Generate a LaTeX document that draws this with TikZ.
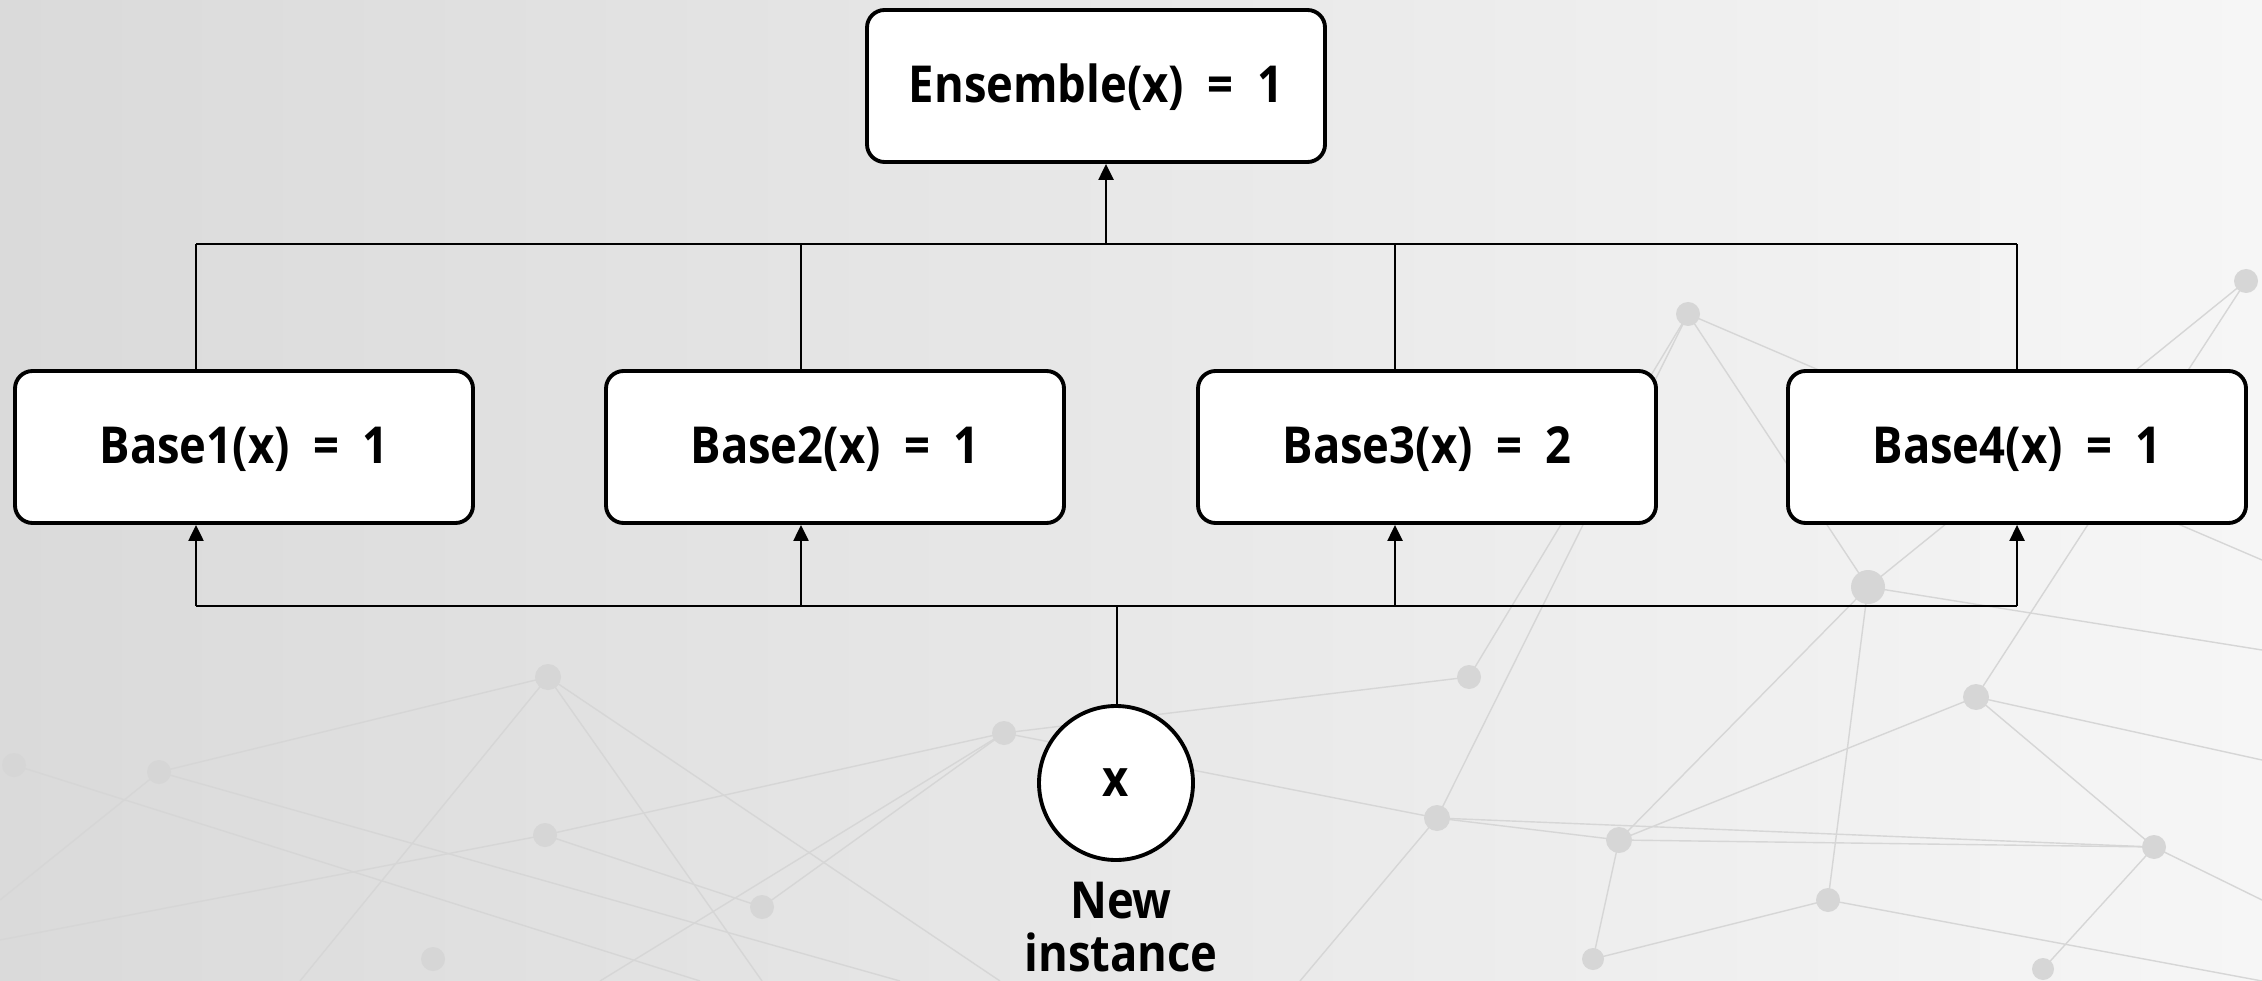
\documentclass[tikz,border=0pt]{standalone}
\usepackage{fontspec}
\setmainfont{Open Sans}[FakeStretch=0.89]
\usepackage{tikz}
\usetikzlibrary{arrows.meta, positioning, calc}

\definecolor{bgleft}{RGB}{218,218,218}
\definecolor{bgright}{RGB}{246,246,246}
\definecolor{netgray}{RGB}{214,214,214}

\begin{document}
\begin{tikzpicture}[
  x=0.1mm, y=-0.1mm,
  block/.style={draw, line width=1.1pt, rounded corners=5pt, fill=white,
                minimum width=45.8mm, minimum height=15.2mm,
                text depth=0.35ex, text height=2.15ex,
                font=\bfseries\fontsize{14.5}{16}\selectfont},
  inst/.style={draw, circle, line width=1.1pt, fill=white, minimum size=15.4mm,
               font=\bfseries\fontsize{14.5}{16}\selectfont},
  lab/.style={align=center, font=\bfseries\fontsize{14.5}{15.2}\selectfont},
  wire/.style={line width=0.45pt},
  arr/.style={-{Triangle[length=1.6mm, width=1.5mm]}, line width=0.65pt},
  net/.style={netgray, line width=0.4pt}
]
\useasboundingbox (0,0) rectangle (2262,981);

% --- background ---
\shade[left color=bgleft, right color=bgright] (0,0) rectangle (2262,981);
\foreach \xa/\ya/\xb/\yb in {548/677/159/772, 548/677/762/981, 548/677/300/981, 548/677/1000/981,
                   159/772/900/981, 159/772/0/900, 14/765/700/981,
                   1004/733/545/835, 1004/733/1437/818, 1004/733/600/981, 1004/733/1469/677,
                   1688/314/1469/677, 1688/314/1868/587, 1688/314/2262/560, 1688/314/1437/818,
                   2246/281/1976/697, 2246/281/1868/587, 1868/587/2262/650, 1868/587/1619/840,
                   1868/587/1828/900, 1976/697/2154/847, 1976/697/1619/840, 1976/697/2262/760,
                   1437/818/1619/840, 1437/818/1300/981, 1437/818/2154/847, 1619/840/2154/847,
                   1619/840/1593/959, 2154/847/2262/900, 2154/847/2043/969, 1828/900/2262/981,
                   1828/900/1593/959, 545/835/762/907, 545/835/0/940, 762/907/1004/733}
  \draw[net] (\xa,\ya) -- (\xb,\yb);
\foreach \px/\py/\r in {548/677/13, 159/772/12, 14/765/12, 545/835/12, 1004/733/12,
                        1469/677/12, 1437/818/13, 1619/840/13, 1868/587/17, 1976/697/13,
                        1688/314/12, 2154/847/12, 1828/900/12, 2246/281/12, 762/907/12,
                        433/959/12, 1593/959/11, 2043/969/11}
  \fill[netgray] (\px,\py) circle[radius=\r];

% --- nodes ---
\node[block] (ens)   at (1096,86)  {Ensemble(x)~~=~~1};
\node[block] (base1) at (244,447)  {Base1(x)~~=~~1};
\node[block] (base2) at (835,447)  {Base2(x)~~=~~1};
\node[block] (base3) at (1427,447) {Base3(x)~~=~~2};
\node[block] (base4) at (2017,447) {Base4(x)~~=~~1};
\node[inst]  (x)     at (1116,783) {x};
\node[lab]   (new)   at (1121,927) {New\\instance};

% --- taps on the two buses ---
\coordinate (t0) at (1106,244);
\coordinate (t1) at (196,244);
\coordinate (t2) at (801,244);
\coordinate (t3) at (1395,244);
\coordinate (t4) at (2017,244);
\coordinate (b0) at (1117,606);
\coordinate (b1) at (196,606);
\coordinate (b2) at (801,606);
\coordinate (b3) at (1395,606);
\coordinate (b4) at (2017,606);

% --- arrows ---
\draw[wire] (t1) -- (t4);
\foreach \i in {1,...,4}
  \draw[wire] (base\i.north -| t\i) -- (t\i);
\draw[arr] (t0) -- (ens.south -| t0);

\draw[wire] (b1) -- (b4);
\foreach \i in {1,...,4}
  \draw[arr] (b\i) -- (base\i.south -| b\i);
\draw[wire] (x.north -| b0) -- (b0);

\end{tikzpicture}
\end{document}
